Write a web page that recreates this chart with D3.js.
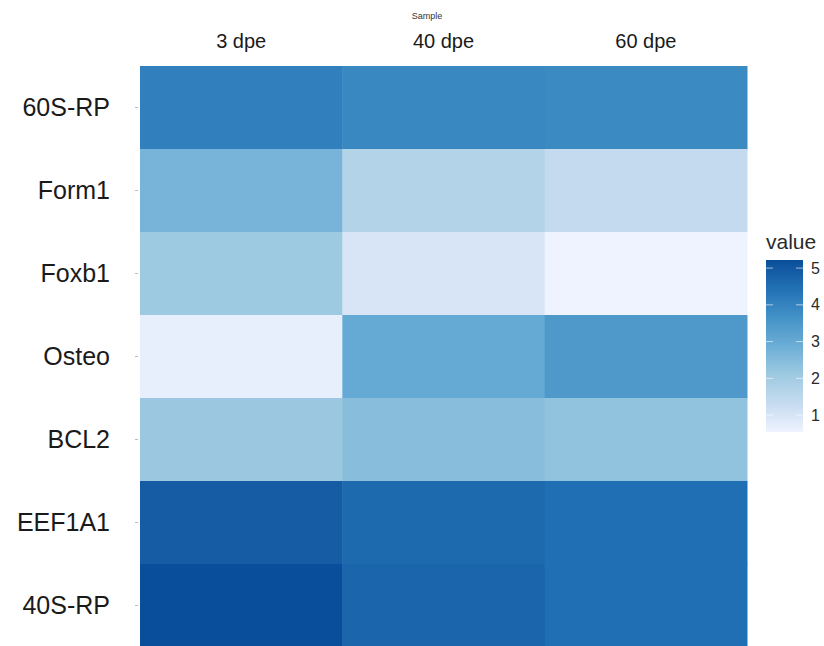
<!DOCTYPE html>
<html>
<head>
<meta charset="utf-8">
<script src="https://cdn.jsdelivr.net/npm/d3@7"></script>
<style>
  html, body { margin: 0; padding: 0; background: #fff; }
  svg { display: block; font-family: "Liberation Sans", Arial, sans-serif; }
</style>
</head>
<body>
<svg id="chart" width="824" height="646"></svg>
<script>
// ---- data ----
const samples = ["3 dpe", "40 dpe", "60 dpe"];
const genes = ["60S-RP", "Form1", "Foxb1", "Osteo", "BCL2", "EEF1A1", "40S-RP"];
const val3dpe  = [4.10, 2.70, 2.10, 0.70, 2.15, 4.90, 5.22];
const val40dpe = [3.90, 1.70, 1.00, 3.00, 2.45, 4.60, 4.70];
const val60dpe = [3.85, 1.35, 0.54, 3.45, 2.30, 4.50, 4.50];
const legendTicks = [1, 2, 3, 4, 5];
const palette = ["#EFF3FF", "#C6DBEF", "#9ECAE1", "#6BAED6", "#4292C6", "#2171B5", "#084E9A"];

const series = [val3dpe, val40dpe, val60dpe];
const cells = [];
genes.forEach((g, i) => samples.forEach((s, j) => cells.push({ gene: g, sample: s, value: series[j][i] })));

const svg = d3.select("#chart");
const mLeft = 140, mRight = 747, mTop = 66, mBottom = 647;

const x = d3.scaleBand().domain(samples).range([mLeft, mRight]).padding(0);
const y = d3.scaleBand().domain(genes).range([mTop, mBottom]).padding(0);

const allVals = cells.map(d => d.value);
const vmin = d3.min(allVals), vmax = d3.max(allVals);
const stops = palette.map((_, k) => vmin + (vmax - vmin) * k / (palette.length - 1));
const color = d3.scaleLinear().domain(stops).range(palette).interpolate(d3.interpolateLab).clamp(true);

// cells
svg.append("g").selectAll("rect").data(cells).join("rect")
  .attr("x", d => x(d.sample))
  .attr("y", d => y(d.gene))
  .attr("width", x.bandwidth() + 0.5)
  .attr("height", y.bandwidth() + 0.5)
  .attr("fill", d => color(d.value));

// top axis
const xAxis = svg.append("g").attr("transform", `translate(0,${mTop})`)
  .call(d3.axisTop(x).tickSize(0).tickPadding(18));
xAxis.select(".domain").remove();
xAxis.selectAll("text").attr("font-size", 20).attr("fill", "#1a1a1a").attr("font-family", "Liberation Sans, Arial, sans-serif");

// left axis
const yAxis = svg.append("g").attr("transform", `translate(${mLeft},0)`)
  .call(d3.axisLeft(y).tickSize(3).tickPadding(27));
yAxis.select(".domain").remove();
yAxis.selectAll("line").attr("stroke", "#bbbbbb").attr("stroke-width", 1).attr("transform", "translate(-2,0)");
yAxis.selectAll("text").attr("font-size", 25).attr("fill", "#1a1a1a").attr("font-family", "Liberation Sans, Arial, sans-serif");

// axis title
svg.append("text").attr("x", 427).attr("y", 19).attr("text-anchor", "middle")
  .attr("font-size", 9).attr("fill", "#333").text("Sample");

// legend
const lgX = 766, lgW = 37, lgTop = 260, lgBot = 432;
const ly = d3.scaleLinear().domain([vmin, vmax]).range([lgBot, lgTop]);
const defs = svg.append("defs");
const grad = defs.append("linearGradient").attr("id", "lg").attr("x1", 0).attr("y1", 1).attr("x2", 0).attr("y2", 0);
d3.range(0, 1.0001, 0.05).forEach(t => {
  grad.append("stop").attr("offset", t).attr("stop-color", color(vmin + t * (vmax - vmin)));
});
svg.append("text").attr("x", lgX).attr("y", 249).attr("font-size", 21).attr("fill", "#2a2a2a").text("value");
svg.append("rect").attr("x", lgX).attr("y", lgTop).attr("width", lgW).attr("height", lgBot - lgTop).attr("fill", "url(#lg)");
const lg = svg.append("g");
lg.selectAll("line.l").data(legendTicks).join("line").attr("class", "l")
  .attr("x1", lgX).attr("x2", lgX + 7).attr("y1", d => ly(d)).attr("y2", d => ly(d))
  .attr("stroke", "#fff").attr("stroke-opacity", 0.6);
lg.selectAll("line.r").data(legendTicks).join("line").attr("class", "r")
  .attr("x1", lgX + lgW - 7).attr("x2", lgX + lgW).attr("y1", d => ly(d)).attr("y2", d => ly(d))
  .attr("stroke", "#fff").attr("stroke-opacity", 0.6);
lg.selectAll("text").data(legendTicks).join("text")
  .attr("x", 811).attr("y", d => ly(d)).attr("dy", "0.35em")
  .attr("font-size", 16).attr("fill", "#2a2a2a").text(d => d);
</script>
</body>
</html>
